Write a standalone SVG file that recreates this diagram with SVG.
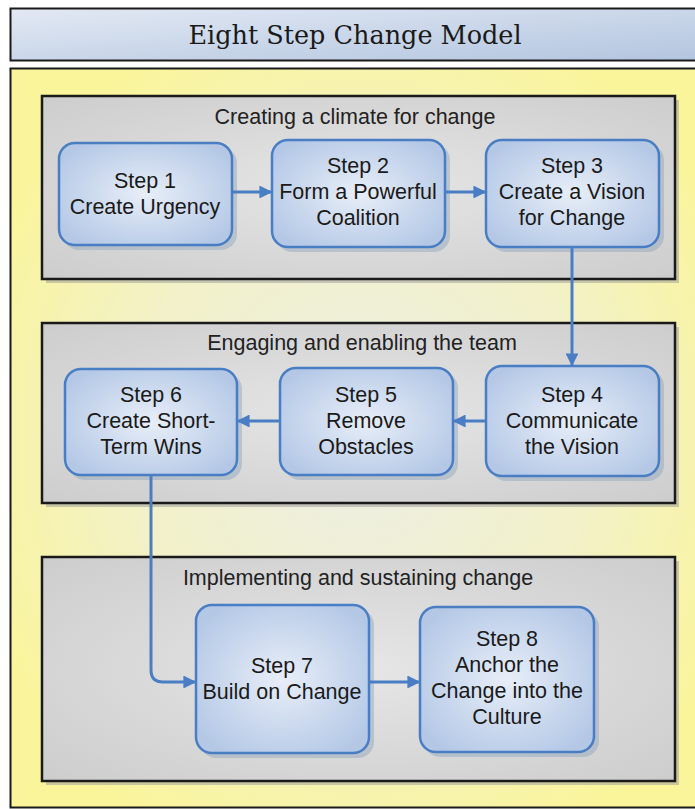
<svg xmlns="http://www.w3.org/2000/svg" width="695" height="809" viewBox="0 0 695 809">
<defs>
<linearGradient id="gTitle" x1="0" y1="0" x2="1" y2="1">
<stop offset="0" stop-color="#e3e9f4"/><stop offset="1" stop-color="#b2c5df"/>
</linearGradient>
<radialGradient id="gYellow" cx="0.5" cy="0.5" r="0.6">
<stop offset="0" stop-color="#eceee6"/><stop offset="0.55" stop-color="#f2f1c8"/><stop offset="1" stop-color="#faf59a"/>
</radialGradient>
<radialGradient id="gGray" cx="0.5" cy="0.5" r="0.7">
<stop offset="0" stop-color="#e6e6e6"/><stop offset="1" stop-color="#cdcdcd"/>
</radialGradient>
<radialGradient id="gStep" cx="0.5" cy="0.5" r="0.6">
<stop offset="0" stop-color="#e8eef8"/><stop offset="1" stop-color="#b4c8e6"/>
</radialGradient>
<marker id="arr" viewBox="0 0 10 10" refX="9" refY="5" markerWidth="4.3" markerHeight="4.3" orient="auto" markerUnits="strokeWidth">
<path d="M0 0 L10 5 L0 10 Z" fill="#4a7ec4"/>
</marker>
<style>
.title{font-family:"DejaVu Serif","Liberation Serif",serif;font-size:25.5px;fill:#1a1a1a;text-anchor:middle}
.sec{fill:url(#gGray);stroke:#1a1a1a;stroke-width:2.5}
.secsh{fill:#9a9a9a;opacity:0.5}
.lbl{font-family:"Liberation Sans",Arial,sans-serif;font-size:21.5px;fill:#222;text-anchor:middle}
.step{fill:url(#gStep);stroke:#4a7ec4;stroke-width:2.5}
.stepsh{fill:#8fa3bd;opacity:0.45}
.st{font-family:"Liberation Sans",Arial,sans-serif;font-size:21.5px;fill:#1a1a1a;text-anchor:middle}
.con{fill:none;stroke:#4a7ec4;stroke-width:3;marker-end:url(#arr)}
</style>
</defs>
<rect x="0" y="0" width="695" height="809" fill="#ffffff"/>
<g id="title">
<rect x="10.5" y="8.5" width="700" height="52" fill="url(#gTitle)" stroke="#1a1a1a" stroke-width="2"/>
<text class="title" x="355" y="44">Eight Step Change Model</text>
</g>
<g id="frame">
<rect x="10.5" y="68.5" width="700" height="739" fill="url(#gYellow)" stroke="#1a1a1a" stroke-width="2"/>
</g>
<g id="section1">
<rect class="secsh" x="46" y="100" width="633" height="183"/>
<rect class="sec" x="42" y="96" width="633" height="183"/>
<text class="lbl" x="355" y="124">Creating a climate for change</text>
</g>
<g id="section2">
<rect class="secsh" x="46" y="327" width="633" height="180"/>
<rect class="sec" x="42" y="323" width="633" height="180"/>
<text class="lbl" x="362" y="350">Engaging and enabling the team</text>
</g>
<g id="section3">
<rect class="secsh" x="46" y="561" width="633" height="224"/>
<rect class="sec" x="42" y="557" width="633" height="224"/>
<text class="lbl" x="358" y="585">Implementing and sustaining change</text>
</g>
<g id="step1">
<rect class="stepsh" x="63" y="147" width="174" height="103" rx="16"/>
<rect class="step" x="59" y="143" width="173" height="102" rx="16"/>
<text class="st" x="145" y="188">Step 1</text>
<text class="st" x="145" y="214">Create Urgency</text>
</g>
<g id="step2">
<rect class="stepsh" x="276" y="144" width="174" height="108" rx="16"/>
<rect class="step" x="272" y="140" width="173" height="107" rx="16"/>
<text class="st" x="358" y="173">Step 2</text>
<text class="st" x="358" y="199">Form a Powerful</text>
<text class="st" x="358" y="225">Coalition</text>
</g>
<g id="step3">
<rect class="stepsh" x="490" y="144" width="174" height="108" rx="16"/>
<rect class="step" x="486" y="140" width="173" height="107" rx="16"/>
<text class="st" x="572" y="173">Step 3</text>
<text class="st" x="572" y="199">Create a Vision</text>
<text class="st" x="572" y="225">for Change</text>
</g>
<g id="step4">
<rect class="stepsh" x="490" y="370" width="174" height="111" rx="16"/>
<rect class="step" x="486" y="366" width="173" height="110" rx="16"/>
<text class="st" x="572" y="402">Step 4</text>
<text class="st" x="572" y="428">Communicate</text>
<text class="st" x="572" y="454">the Vision</text>
</g>
<g id="step5">
<rect class="stepsh" x="284" y="372" width="174" height="108" rx="16"/>
<rect class="step" x="280" y="368" width="173" height="107" rx="16"/>
<text class="st" x="366" y="402">Step 5</text>
<text class="st" x="366" y="428">Remove</text>
<text class="st" x="366" y="454">Obstacles</text>
</g>
<g id="step6">
<rect class="stepsh" x="69" y="373" width="173" height="107" rx="16"/>
<rect class="step" x="65" y="369" width="172" height="106" rx="16"/>
<text class="st" x="151" y="402">Step 6</text>
<text class="st" x="151" y="428">Create Short-</text>
<text class="st" x="151" y="454">Term Wins</text>
</g>
<g id="step7">
<rect class="stepsh" x="200" y="609" width="174" height="149" rx="16"/>
<rect class="step" x="196" y="605" width="173" height="148" rx="16"/>
<text class="st" x="282" y="673">Step 7</text>
<text class="st" x="282" y="699">Build on Change</text>
</g>
<g id="step8">
<rect class="stepsh" x="424" y="611" width="175" height="146" rx="16"/>
<rect class="step" x="420" y="607" width="174" height="145" rx="16"/>
<text class="st" x="507" y="646">Step 8</text>
<text class="st" x="507" y="672">Anchor the</text>
<text class="st" x="507" y="698">Change into the</text>
<text class="st" x="507" y="724">Culture</text>
</g>
<g id="connectors">
<path class="con" d="M232 192 H271"/>
<path class="con" d="M445 192 H485"/>
<path class="con" d="M572 247 V365"/>
<path class="con" d="M486 421 H454"/>
<path class="con" d="M280 421 H238"/>
<path class="con" d="M151 475 V670 Q151 682 163 682 H195"/>
<path class="con" d="M369 682 H419"/>
</g>
</svg>
